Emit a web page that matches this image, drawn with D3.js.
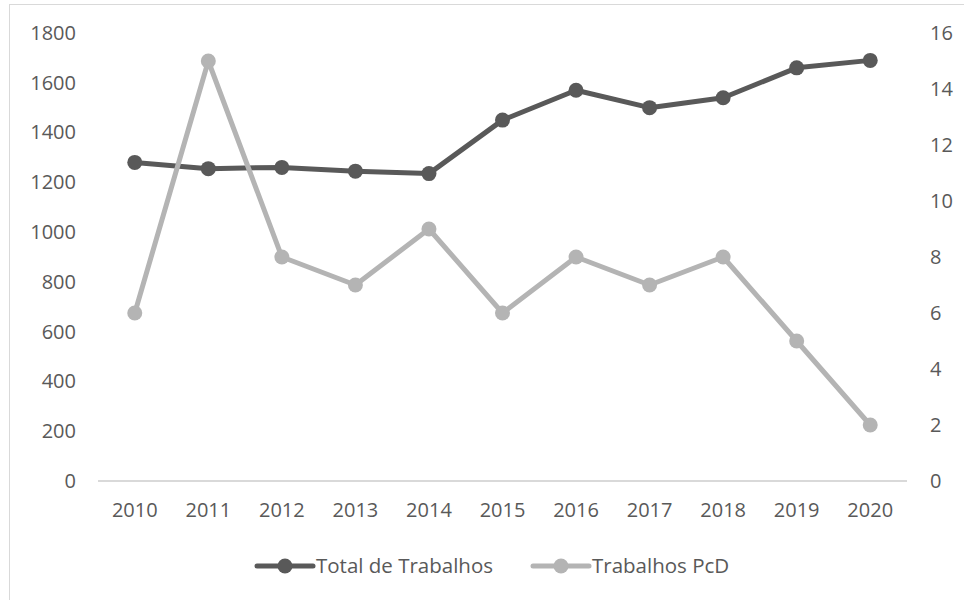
<!DOCTYPE html>
<html lang="pt">
<head>
  <meta charset="UTF-8">
  <title>Trabalhos</title>
  <script src="https://d3js.org/d3.v7.min.js"></script>
  <style>
    body { margin: 0; background: #fff; }
    svg text { font-family: "Open Sans", "Liberation Sans", sans-serif; fill: #595959; }
  </style>
</head>
<body>
  <div id="chart"></div>
  <script>
    // data
    var years = ["2010", "2011", "2012", "2013", "2014", "2015", "2016", "2017", "2018", "2019", "2020"];
    var totalTrabalhos = [1280, 1255, 1260, 1245, 1235, 1450, 1570, 1500, 1540, 1660, 1690];
    var trabalhosPcD = [6, 15, 8, 7, 9, 6, 8, 7, 8, 5, 2];
    var leftTicks = [0, 200, 400, 600, 800, 1000, 1200, 1400, 1600, 1800];
    var rightTicks = [0, 2, 4, 6, 8, 10, 12, 14, 16];
    var seriesNames = ["Total de Trabalhos", "Trabalhos PcD"];
    var colors = ["#595959", "#b4b4b4"];

    var W = 964, H = 600;
    var svg = d3.select("#chart").append("svg")
      .attr("width", W).attr("height", H);

    // outer border
    svg.append("rect")
      .attr("x", 9.5).attr("y", 4.5)
      .attr("width", 1000).attr("height", 700)
      .attr("fill", "none").attr("stroke", "#d9d9d9");

    var plot = {left: 98, right: 907, top: 33, bottom: 481};

    var x = d3.scaleBand().domain(years).range([plot.left, plot.right]);
    var yL = d3.scaleLinear().domain([0, 1800]).range([plot.bottom, plot.top]);
    var yR = d3.scaleLinear().domain([0, 16]).range([plot.bottom, plot.top]);
    var cx = function(d, i) { return x(years[i]) + x.bandwidth() / 2; };

    // left axis
    var axL = svg.append("g")
      .attr("transform", "translate(" + (plot.left - 22) + ",0)")
      .call(d3.axisLeft(yL).tickValues(leftTicks).tickFormat(d3.format("d")).tickSize(0).tickPadding(0));
    axL.select(".domain").remove();

    // right axis
    var axR = svg.append("g")
      .attr("transform", "translate(" + (plot.right + 23) + ",0)")
      .call(d3.axisRight(yR).tickValues(rightTicks).tickFormat(d3.format("d")).tickSize(0).tickPadding(0));
    axR.select(".domain").remove();

    // bottom axis
    var axB = svg.append("g")
      .attr("transform", "translate(0," + plot.bottom + ")")
      .call(d3.axisBottom(x).tickSize(0).tickPadding(22));
    axB.select(".domain").attr("stroke", "#d9d9d9").attr("stroke-width", 2)
      .attr("d", "M" + plot.left + ",0H" + plot.right);

    svg.selectAll(".tick text")
      .attr("font-size", 20).attr("fill", "#595959")
      .style("font-family", "'Open Sans', 'Liberation Sans', sans-serif");

    function drawSeries(values, scale, color) {
      var line = d3.line()
        .x(function(d, i) { return cx(d, i); })
        .y(function(d) { return scale(d); });
      svg.append("path")
        .datum(values)
        .attr("d", line)
        .attr("fill", "none")
        .attr("stroke", color)
        .attr("stroke-width", 5)
        .attr("stroke-linejoin", "round");
      svg.append("g").selectAll("circle")
        .data(values).enter().append("circle")
        .attr("cx", function(d, i) { return cx(d, i); })
        .attr("cy", function(d) { return scale(d); })
        .attr("r", 7.5)
        .attr("fill", color);
    }

    drawSeries(totalTrabalhos, yL, colors[0]);
    drawSeries(trabalhosPcD, yR, colors[1]);

    // legend
    var legendX = [257, 533];
    var legendY = 566;
    seriesNames.forEach(function(name, i) {
      var g = svg.append("g").attr("transform", "translate(" + legendX[i] + "," + legendY + ")");
      g.append("line").attr("x1", 0).attr("x2", 56).attr("y1", 0).attr("y2", 0)
        .attr("stroke", colors[i]).attr("stroke-width", 5).attr("stroke-linecap", "round");
      g.append("circle").attr("cx", 28).attr("cy", 0).attr("r", 7.5).attr("fill", colors[i]);
      g.append("text").attr("x", 59).attr("y", 0).attr("dy", "0.35em")
        .attr("font-size", 20.5).text(name);
    });
  </script>
</body>
</html>
